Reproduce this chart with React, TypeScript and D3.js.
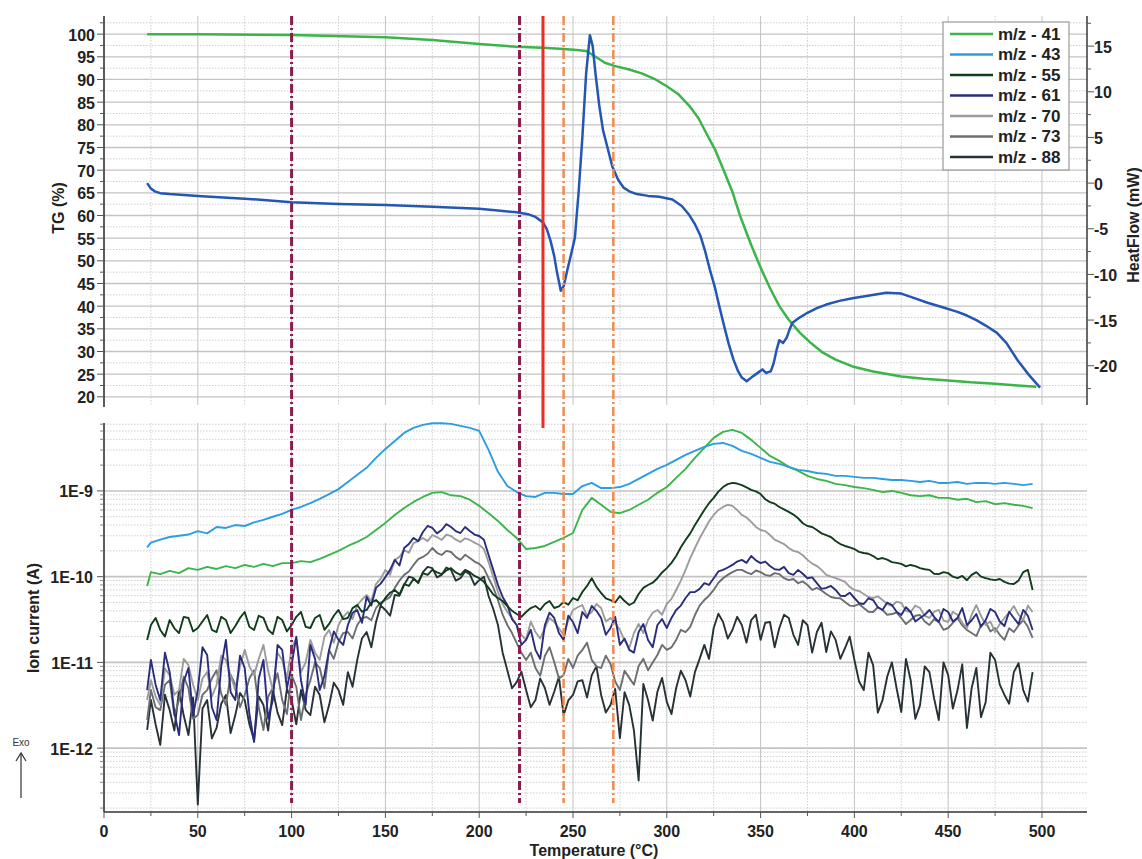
import React from 'react';
import * as d3 from 'd3';

const W = 1142;
const H = 859;
const FONT = '"Liberation Sans", Arial, sans-serif';

// ---------- Upper panel: TG (%) and HeatFlow (mW) ----------
const TG_TEMPS = [23, 50, 100, 150, 175, 200, 220, 234, 245, 252, 257, 262, 267, 272, 280, 287, 294, 300, 306, 312, 317, 321, 326, 330, 335, 339, 345, 350, 355, 360, 365, 371, 377, 383, 390, 399, 410, 425, 437, 450, 462, 475, 487, 497];
const TG_VALUES = [100, 100, 99.8, 99.3, 98.7, 97.8, 97.2, 97.0, 96.7, 96.5, 96.3, 95.0, 93.7, 93.0, 92.2, 91.3, 90.0, 88.5, 86.8, 84.2, 81.4, 78.2, 74.3, 70.3, 65.2, 60.0, 53.5, 48.5, 44.0, 40.0, 37.0, 34.1, 31.8, 29.8, 28.2, 26.7, 25.6, 24.5, 24.0, 23.6, 23.2, 22.9, 22.5, 22.2];

const HF_TEMPS = [23, 25, 27, 30, 35, 50, 75, 100, 125, 150, 175, 200, 210, 220, 226, 230, 234, 236, 238, 240, 241.5, 243.5, 245, 247, 249, 251, 253, 255, 257, 259, 260.5, 262, 264, 266, 268, 271, 274, 277, 280, 284, 290, 296, 303, 308, 312, 315, 318, 320.5, 323, 325.5, 328, 330.5, 333, 335.5, 338, 340, 342.6, 345, 347, 349, 351, 353, 354, 355.5, 357, 358.5, 360, 362, 364, 365.5, 367, 371, 375, 380, 385, 392, 399, 408, 417, 425, 432, 439, 447, 455, 460, 465, 470, 476, 481, 487, 493, 499];
const HF_VALUES = [0.0, -0.6, -0.9, -1.1, -1.2, -1.4, -1.7, -2.1, -2.3, -2.4, -2.6, -2.8, -3.0, -3.2, -3.4, -3.7, -4.3, -5.0, -6.3, -8.0, -9.8, -11.8, -11.3, -9.5, -7.8, -6.0, -1.0, 5.0, 12.0, 16.2, 15.0, 12.0, 8.5, 5.8, 4.2, 1.8, 0.4, -0.5, -0.9, -1.2, -1.4, -1.5, -1.8, -2.5, -3.5, -4.5, -5.8, -7.5, -9.5, -11.3, -13.5, -15.6, -17.6, -19.3, -20.6, -21.3, -21.7, -21.3, -21.0, -20.7, -20.4, -20.8, -20.7, -20.6, -19.7, -18.3, -17.2, -17.5, -16.9, -16.0, -15.3, -14.7, -14.2, -13.7, -13.3, -12.9, -12.6, -12.3, -12.0, -12.1, -12.6, -13.1, -13.6, -14.1, -14.5, -15.0, -15.6, -16.4, -17.5, -19.4, -21.0, -22.4];

// ---------- Lower panel: ion currents (A) ----------
const MS_TEMPS = [
  23, 25, 30, 35, 40, 45, 50, 55, 60, 65,
  70, 75, 80, 85, 90, 95, 100, 105, 110, 115,
  120, 125, 130, 135, 140, 145, 150, 155, 160, 165,
  170, 175, 180, 185, 190, 195, 200, 205, 210, 215,
  220, 225, 230, 235, 240, 245, 250, 255, 260, 265,
  270, 275, 280, 285, 290, 295, 300, 305, 310, 315,
  320, 325, 330, 335, 340, 345, 350, 355, 360, 365,
  370, 375, 380, 385, 390, 395, 400, 405, 410, 415,
  420, 425, 430, 435, 440, 445, 450, 455, 460, 465,
  470, 475, 480, 485, 490, 495,
];

const MZ41 = [
  7.8e-11, 1.13e-10, 1.07e-10, 1.17e-10, 1.10e-10, 1.26e-10, 1.20e-10, 1.30e-10, 1.23e-10, 1.33e-10,
  1.26e-10, 1.37e-10, 1.30e-10, 1.41e-10, 1.33e-10, 1.44e-10, 1.44e-10, 1.52e-10, 1.48e-10, 1.61e-10,
  1.79e-10, 2.00e-10, 2.28e-10, 2.54e-10, 2.90e-10, 3.50e-10, 4.24e-10, 5.25e-10, 6.33e-10, 7.44e-10,
  8.5e-10, 9.5e-10, 9.7e-10, 8.9e-10, 8.7e-10, 7.9e-10, 6.7e-10, 5.5e-10, 4.47e-10, 3.50e-10,
  2.83e-10, 2.10e-10, 2.16e-10, 2.28e-10, 2.54e-10, 2.83e-10, 3.23e-10, 6.0e-10, 8.3e-10, 6.9e-10,
  5.7e-10, 5.5e-10, 6.0e-10, 6.9e-10, 7.9e-10, 9.5e-10, 1.11e-9, 1.42e-9, 1.81e-9, 2.43e-9,
  3.18e-9, 4.16e-9, 4.88e-9, 5.15e-9, 4.75e-9, 3.94e-9, 3.18e-9, 2.56e-9, 2.24e-9, 1.91e-9,
  1.71e-9, 1.50e-9, 1.38e-9, 1.31e-9, 1.21e-9, 1.17e-9, 1.11e-9, 1.08e-9, 1.03e-9, 9.7e-10,
  1.0e-9, 9.5e-10, 8.9e-10, 8.7e-10, 8.9e-10, 8.3e-10, 8.3e-10, 7.9e-10, 8.1e-10, 7.4e-10,
  7.6e-10, 7.0e-10, 7.2e-10, 6.9e-10, 6.7e-10, 6.3e-10,
];

const MZ43 = [
  2.2e-10, 2.5e-10, 2.7e-10, 2.9e-10, 3.0e-10, 3.1e-10, 3.4e-10, 3.2e-10, 3.8e-10, 3.7e-10,
  4.0e-10, 3.9e-10, 4.3e-10, 4.6e-10, 5.0e-10, 5.4e-10, 6.0e-10, 6.5e-10, 7.2e-10, 8.1e-10,
  9.2e-10, 1.05e-9, 1.27e-9, 1.54e-9, 1.86e-9, 2.43e-9, 3.09e-9, 3.83e-9, 4.75e-9, 5.43e-9,
  5.89e-9, 6.15e-9, 6.15e-9, 6.05e-9, 5.73e-9, 5.43e-9, 5.01e-9, 3.01e-9, 1.67e-9, 1.14e-9,
  9.7e-10, 8.7e-10, 8.5e-10, 9.5e-10, 9.5e-10, 9.2e-10, 9.2e-10, 1.14e-9, 1.24e-9, 1.08e-9,
  1.08e-9, 1.11e-9, 1.21e-9, 1.38e-9, 1.58e-9, 1.81e-9, 2.01e-9, 2.30e-9, 2.63e-9, 2.93e-9,
  3.26e-9, 3.54e-9, 3.63e-9, 3.35e-9, 2.93e-9, 2.70e-9, 2.43e-9, 2.18e-9, 2.07e-9, 1.91e-9,
  1.76e-9, 1.71e-9, 1.62e-9, 1.58e-9, 1.50e-9, 1.50e-9, 1.46e-9, 1.42e-9, 1.42e-9, 1.38e-9,
  1.34e-9, 1.34e-9, 1.31e-9, 1.27e-9, 1.31e-9, 1.24e-9, 1.24e-9, 1.27e-9, 1.21e-9, 1.24e-9,
  1.24e-9, 1.21e-9, 1.24e-9, 1.21e-9, 1.17e-9, 1.21e-9,
];

const MZ55 = [
  1.83e-11, 2.73e-11, 2.39e-11, 3.12e-11, 2.20e-11, 3.30e-11, 2.52e-11, 3.57e-11, 2.26e-11, 3.12e-11,
  2.66e-11, 3.87e-11, 2.39e-11, 3.30e-11, 2.14e-11, 3.12e-11, 2.73e-11, 3.87e-11, 2.52e-11, 3.57e-11,
  2.81e-11, 4.09e-11, 3.30e-11, 4.67e-11, 4.09e-11, 5.34e-11, 5.64e-11, 7.0e-11, 8.2e-11, 9.4e-11,
  1.10e-10, 1.20e-10, 1.07e-10, 1.26e-10, 1.05e-10, 1.13e-10, 9.6e-11, 7.4e-11, 5.64e-11, 4.55e-11,
  3.67e-11, 3.87e-11, 4.55e-11, 4.80e-11, 4.31e-11, 5.07e-11, 5.64e-11, 6.63e-11, 9.6e-11, 6.45e-11,
  5.34e-11, 5.95e-11, 4.67e-11, 6.28e-11, 8.0e-11, 9.6e-11, 1.26e-10, 1.74e-10, 2.68e-10, 4.01e-10,
  6.0e-10, 8.3e-10, 1.11e-9, 1.24e-9, 1.17e-9, 1.03e-9, 9.2e-10, 7.4e-10, 6.5e-10, 5.7e-10,
  4.8e-10, 3.9e-10, 3.5e-10, 3.06e-10, 2.61e-10, 2.28e-10, 2.10e-10, 1.89e-10, 1.74e-10, 1.65e-10,
  1.48e-10, 1.41e-10, 1.37e-10, 1.26e-10, 1.20e-10, 1.07e-10, 1.10e-10, 9.6e-11, 9.1e-11, 1.13e-10,
  9.6e-11, 9.1e-11, 8.7e-11, 8.2e-11, 1.13e-10, 7.0e-11,
];
// readings half-way between the temperatures above (27.5, 32.5, ... 492.5 °C)
const MZ55_MID = [
  3.3e-11, 2.0e-11, 2.5e-11, 3.4e-11, 2.3e-11, 3.0e-11, 2.4e-11, 3.4e-11, 2.2e-11, 3.3e-11,
  2.6e-11, 3.5e-11, 2.4e-11, 3.4e-11, 2.3e-11, 3.4e-11, 2.6e-11, 3.3e-11, 2.4e-11, 3.5e-11,
  3.2e-11, 4.3e-11, 3.9e-11, 5.0e-11, 4.7e-11, 6.5e-11, 6.2e-11, 7.8e-11, 8.6e-11, 1.05e-10,
  1.12e-10, 1.18e-10, 1.12e-10, 1.2e-10, 1.02e-10, 8.7e-11, 6.2e-11, 5.2e-11, 4.0e-11, 3.4e-11,
  4.3e-11, 4.1e-11, 5.2e-11, 4.5e-11, 4.7e-11, 5.3e-11, 7.8e-11, 7.6e-11, 5.6e-11, 5.0e-11,
  5.2e-11, 5.0e-11, 7.4e-11, 8.5e-11, 1.12e-10, 1.45e-10, 2.2e-10, 3.2e-10, 4.9e-10, 7.2e-10,
  9.8e-10, 1.2e-9, 1.22e-9, 1.1e-9, 9.9e-10, 8.0e-10, 7.1e-10, 6.1e-10, 5.3e-10, 4.2e-10,
  3.8e-10, 3.2e-10, 2.9e-10, 2.4e-10, 2.2e-10, 1.95e-10, 1.85e-10, 1.6e-10, 1.58e-10, 1.45e-10,
  1.32e-10, 1.33e-10, 1.22e-10, 1.08e-10, 1.13e-10, 1.0e-10, 1.02e-10, 1.05e-10, 1.0e-10, 9.3e-11,
  9.4e-11, 8.3e-11, 9.0e-11, 1.2e-10,
];

const MZ61 = [
  4.76e-12, 1.07e-11, 3.64e-12, 7.7e-12, 1.42e-12, 8.6e-12, 4.76e-12, 1.22e-11, 2.13e-12, 1.83e-11,
  3.64e-12, 8.6e-12, 1.18e-12, 1.07e-11, 3.64e-12, 1.40e-11, 9.3e-12, 6.2e-12, 1.60e-11, 4.76e-12,
  1.40e-11, 1.83e-11, 2.73e-11, 4.09e-11, 5.80e-11, 7.4e-11, 9.9e-11, 1.57e-10, 2.16e-10, 2.83e-10,
  3.32e-10, 3.70e-10, 3.50e-10, 3.80e-10, 3.23e-10, 3.41e-10, 2.98e-10, 1.79e-10, 8.0e-11, 4.67e-11,
  2.73e-11, 1.83e-11, 1.40e-11, 2.73e-11, 3.30e-11, 1.83e-11, 2.96e-11, 3.87e-11, 4.55e-11, 3.30e-11,
  2.52e-11, 1.60e-11, 1.40e-11, 2.26e-11, 1.83e-11, 2.73e-11, 2.52e-11, 4.09e-11, 5.64e-11, 6.63e-11,
  8.4e-11, 9.6e-11, 1.20e-10, 1.37e-10, 1.57e-10, 1.74e-10, 1.44e-10, 1.33e-10, 1.20e-10, 1.10e-10,
  1.20e-10, 9.6e-11, 8.4e-11, 7.4e-11, 7.0e-11, 5.95e-11, 5.64e-11, 4.80e-11, 5.34e-11, 4.09e-11,
  4.67e-11, 3.57e-11, 3.87e-11, 3.30e-11, 4.09e-11, 2.96e-11, 3.87e-11, 3.30e-11, 2.73e-11, 3.67e-11,
  3.12e-11, 3.87e-11, 2.66e-11, 3.30e-11, 4.09e-11, 2.39e-11,
];
const MZ61_MID = [
  5.5e-12, 1.3e-11, 2.6e-12, 6.0e-12, 2.4e-12, 1.5e-11, 3.0e-12, 9.0e-12, 4.5e-12, 1.2e-11,
  2.5e-12, 6.5e-12, 2.2e-12, 1.6e-11, 5.0e-12, 2.0e-11, 3.2e-12, 1.1e-11, 7.0e-12, 2.3e-11,
  1.6e-11, 3.8e-11, 2.9e-11, 4.6e-11, 8.3e-11, 1.2e-10, 1.35e-10, 2.4e-10, 2.6e-10, 3.9e-10,
  3.2e-10, 4.1e-10, 3.4e-10, 3.8e-10, 3.1e-10, 2.7e-10, 1.2e-10, 5.8e-11, 3.2e-11, 1.6e-11,
  2.4e-11, 1.1e-11, 3.8e-11, 2.2e-11, 3.5e-11, 2.2e-11, 3.3e-11, 4.0e-11, 2.1e-11, 3.4e-11,
  1.9e-11, 1.3e-11, 2.8e-11, 1.5e-11, 3.2e-11, 3.3e-11, 4.6e-11, 6.6e-11, 7.2e-11, 8.0e-11,
  1.15e-10, 1.28e-10, 1.5e-10, 1.45e-10, 1.55e-10, 1.5e-10, 1.22e-10, 1.3e-10, 1.05e-10, 1.08e-10,
  9.8e-11, 7.2e-11, 7.8e-11, 6.0e-11, 6.5e-11, 4.9e-11, 5.6e-11, 4.4e-11, 5.0e-11, 3.9e-11,
  4.4e-11, 3.0e-11, 3.6e-11, 3.4e-11, 4.2e-11, 3.0e-11, 4.3e-11, 3.1e-11, 2.6e-11, 4.2e-11,
  3.0e-11, 3.9e-11, 2.8e-11, 3.5e-11,
];

const MZ70 = [
  3.64e-12, 6.2e-12, 3.18e-12, 7.1e-12, 4.76e-12, 9.3e-12, 3.64e-12, 7.7e-12, 5.45e-12, 1.07e-11,
  4.76e-12, 1.40e-11, 7.1e-12, 1.60e-11, 4.76e-12, 1.07e-11, 1.47e-11, 7.7e-12, 1.83e-11, 1.07e-11,
  2.39e-11, 2.73e-11, 3.87e-11, 4.67e-11, 6.12e-11, 8.2e-11, 1.20e-10, 1.57e-10, 2.05e-10, 2.47e-10,
  2.83e-10, 3.06e-10, 2.68e-10, 2.98e-10, 2.54e-10, 2.68e-10, 2.34e-10, 1.48e-10, 6.63e-11, 3.87e-11,
  2.73e-11, 1.83e-11, 2.26e-11, 2.52e-11, 2.96e-11, 2.09e-11, 4.09e-11, 4.67e-11, 3.87e-11, 4.31e-11,
  3.30e-11, 2.39e-11, 1.47e-11, 2.81e-11, 3.12e-11, 4.09e-11, 4.80e-11, 7.0e-11, 1.20e-10, 2.16e-10,
  3.50e-10, 5.25e-10, 6.5e-10, 6.7e-10, 5.25e-10, 4.35e-10, 3.50e-10, 3.06e-10, 2.54e-10, 2.16e-10,
  1.94e-10, 1.57e-10, 1.33e-10, 1.05e-10, 9.6e-11, 8.7e-11, 7.0e-11, 6.28e-11, 5.64e-11, 5.34e-11,
  4.55e-11, 4.94e-11, 3.87e-11, 4.31e-11, 3.30e-11, 4.09e-11, 2.96e-11, 3.57e-11, 2.52e-11, 4.67e-11,
  2.73e-11, 2.26e-11, 3.30e-11, 4.55e-11, 3.12e-11, 3.87e-11,
];
const MZ70_MID = [
  4.0e-12, 8.5e-12, 4.2e-12, 1.1e-11, 5.5e-12, 6.5e-12, 4.0e-12, 1.2e-11, 7.0e-12, 9.0e-12,
  9.0e-12, 1.1e-11, 8.0e-12, 1.3e-11, 6.5e-12, 1.9e-11, 1.0e-11, 1.3e-11, 2.0e-11, 1.7e-11,
  3.4e-11, 3.2e-11, 5.4e-11, 5.2e-11, 9.5e-11, 1.05e-10, 1.7e-10, 1.9e-10, 2.6e-10, 2.6e-10,
  2.9e-10, 3.1e-10, 2.7e-10, 2.8e-10, 2.5e-10, 2.1e-10, 1.0e-10, 4.8e-11, 3.3e-11, 2.1e-11,
  3.0e-11, 1.9e-11, 3.3e-11, 2.5e-11, 3.1e-11, 4.4e-11, 3.5e-11, 4.8e-11, 3.0e-11, 2.9e-11,
  1.8e-11, 2.2e-11, 2.2e-11, 3.8e-11, 3.6e-11, 5.5e-11, 9.0e-11, 1.65e-10, 2.8e-10, 4.4e-10,
  6.0e-10, 6.9e-10, 6.0e-10, 4.9e-10, 3.8e-10, 3.4e-10, 2.7e-10, 2.4e-10, 2.0e-10, 1.78e-10,
  1.42e-10, 1.2e-10, 1.0e-10, 9.2e-11, 7.6e-11, 6.8e-11, 5.8e-11, 5.9e-11, 4.8e-11, 5.1e-11,
  4.0e-11, 4.6e-11, 3.5e-11, 3.9e-11, 3.1e-11, 3.9e-11, 2.9e-11, 3.6e-11, 3.5e-11, 3.0e-11,
  2.8e-11, 3.8e-11, 3.6e-11, 4.6e-11,
];

const MZ73 = [
  2.13e-12, 4.76e-12, 2.78e-12, 6.2e-12, 3.64e-12, 5.03e-12, 2.43e-12, 4.76e-12, 8.1e-12, 3.18e-12,
  5.45e-12, 4.17e-12, 8.1e-12, 1.63e-12, 5.03e-12, 3.64e-12, 7.1e-12, 2.13e-12, 6.2e-12, 8.6e-12,
  1.40e-11, 1.73e-11, 2.26e-11, 2.73e-11, 3.39e-11, 4.31e-11, 5.34e-11, 7.4e-11, 1.05e-10, 1.37e-10,
  1.70e-10, 2.16e-10, 1.79e-10, 1.94e-10, 1.57e-10, 1.65e-10, 1.41e-10, 9.6e-11, 5.34e-11, 2.73e-11,
  1.68e-11, 1.07e-11, 8.6e-12, 1.19e-11, 1.01e-11, 7.1e-12, 8.6e-12, 1.40e-11, 1.07e-11, 8.6e-12,
  9.6e-12, 4.76e-12, 6.6e-12, 9.1e-12, 8.1e-12, 1.22e-11, 1.40e-11, 1.83e-11, 2.26e-11, 3.57e-11,
  5.34e-11, 7.0e-11, 9.6e-11, 1.13e-10, 1.20e-10, 1.07e-10, 1.13e-10, 1.02e-10, 1.07e-10, 9.1e-11,
  8.4e-11, 8.0e-11, 7.4e-11, 6.28e-11, 5.64e-11, 5.07e-11, 4.55e-11, 4.31e-11, 3.87e-11, 4.09e-11,
  3.67e-11, 3.30e-11, 3.12e-11, 3.57e-11, 2.73e-11, 2.96e-11, 2.52e-11, 3.30e-11, 2.39e-11, 2.03e-11,
  2.96e-11, 2.52e-11, 1.83e-11, 2.26e-11, 3.12e-11, 1.93e-11,
];
const MZ73_MID = [
  3.0e-12, 5.5e-12, 2.4e-12, 6.8e-12, 2.2e-12, 4.2e-12, 6.5e-12, 4.3e-12, 7.2e-12, 3.0e-12,
  6.5e-12, 3.0e-12, 4.0e-12, 7.5e-12, 2.5e-12, 5.2e-12, 4.2e-12, 1.0e-11, 5.0e-12, 1.1e-11,
  2.2e-11, 1.9e-11, 3.3e-11, 3.1e-11, 5.0e-11, 5.8e-11, 9.0e-11, 1.15e-10, 1.6e-10, 1.85e-10,
  1.9e-10, 2.0e-10, 1.7e-10, 1.8e-10, 1.5e-10, 1.25e-10, 7.5e-11, 3.6e-11, 2.2e-11, 1.3e-11,
  1.3e-11, 7.0e-12, 1.5e-11, 6.5e-12, 1.1e-11, 1.2e-11, 1.7e-11, 9.0e-12, 1.2e-11, 6.0e-12,
  8.0e-12, 5.5e-12, 1.1e-11, 1.0e-11, 1.6e-11, 1.5e-11, 2.4e-11, 2.6e-11, 4.6e-11, 6.0e-11,
  8.5e-11, 1.05e-10, 1.2e-10, 1.12e-10, 1.18e-10, 1.05e-10, 1.1e-10, 9.6e-11, 9.4e-11, 8.8e-11,
  7.0e-11, 6.9e-11, 5.8e-11, 5.6e-11, 4.6e-11, 4.8e-11, 3.9e-11, 4.4e-11, 3.6e-11, 3.8e-11,
  2.8e-11, 3.5e-11, 3.0e-11, 3.2e-11, 2.4e-11, 2.9e-11, 2.7e-11, 2.2e-11, 2.7e-11, 2.3e-11,
  2.1e-11, 2.5e-11, 2.7e-11, 2.6e-11,
];

const MZ88 = [
  1.63e-12, 3.64e-12, 1.09e-12, 2.78e-12, 4.76e-12, 1.42e-12, 2.2e-13, 3.64e-12, 1.72e-12, 4.17e-12,
  2.43e-12, 3.64e-12, 1.24e-12, 3.18e-12, 4.76e-12, 1.86e-12, 3.64e-12, 4.76e-12, 2.43e-12, 4.17e-12,
  3.18e-12, 4.76e-12, 7.7e-12, 1.07e-11, 2.26e-11, 2.96e-11, 4.09e-11, 6.12e-11, 8.0e-11, 9.6e-11,
  1.13e-10, 1.26e-10, 1.05e-10, 1.20e-10, 9.6e-11, 1.07e-10, 9.1e-11, 5.95e-11, 2.73e-11, 8.1e-12,
  5.9e-12, 4.76e-12, 3.64e-12, 5.03e-12, 4.55e-12, 2.43e-12, 4.17e-12, 6.2e-12, 7.1e-12, 4.17e-12,
  3.18e-12, 1.31e-12, 3.18e-12, 4.2e-13, 3.64e-12, 4.55e-12, 3.46e-12, 5.03e-12, 6.2e-12, 7.7e-12,
  1.60e-11, 2.52e-11, 2.96e-11, 2.39e-11, 2.73e-11, 3.12e-11, 1.83e-11, 2.96e-11, 2.52e-11, 3.30e-11,
  1.60e-11, 2.73e-11, 2.26e-11, 1.32e-11, 1.83e-11, 1.47e-11, 1.07e-11, 4.76e-12, 9.3e-12, 3.64e-12,
  1.0e-11, 2.64e-12, 6.2e-12, 3.18e-12, 7.7e-12, 2.13e-12, 7.1e-12, 4.76e-12, 1.72e-12, 8.6e-12,
  3.46e-12, 1.07e-11, 4.17e-12, 7.7e-12, 4.76e-12, 7.7e-12,
];
const MZ88_MID = [
  1.9e-12, 4.2e-12, 1.6e-12, 2.4e-12, 3.9e-12, 2.9e-12, 1.3e-12, 3.3e-12, 1.5e-12, 4.4e-12,
  1.9e-12, 4.0e-12, 1.6e-12, 2.6e-12, 4.9e-12, 1.9e-12, 2.8e-12, 5.2e-12, 2.0e-12, 5.8e-12,
  3.2e-12, 5.2e-12, 1.9e-11, 1.5e-11, 4.6e-11, 3.5e-11, 6.0e-11, 1.0e-10, 8.4e-11, 1.3e-10,
  9.8e-11, 1.28e-10, 9.0e-11, 1.15e-10, 8.0e-11, 1.0e-10, 4.2e-11, 1.3e-11, 5.0e-12, 7.8e-12,
  3.0e-12, 6.5e-12, 3.2e-12, 6.8e-12, 3.6e-12, 6.0e-12, 3.9e-12, 9.0e-12, 2.6e-12, 4.9e-12,
  4.5e-12, 1.6e-12, 5.6e-12, 2.1e-12, 6.6e-12, 2.5e-12, 8.0e-12, 4.0e-12, 1.1e-11, 1.1e-11,
  3.7e-11, 1.9e-11, 3.4e-11, 1.7e-11, 3.6e-11, 2.9e-11, 1.5e-11, 3.6e-11, 2.1e-11, 3.1e-11,
  1.3e-11, 2.9e-11, 2.3e-11, 1.1e-11, 2.0e-11, 6.0e-12, 1.3e-11, 2.6e-12, 6.8e-12, 5.0e-12,
  1.1e-11, 2.2e-12, 9.0e-12, 3.8e-12, 1.0e-11, 2.9e-12, 9.5e-12, 5.0e-12, 2.3e-12, 1.3e-11,
  5.5e-12, 3.3e-12, 9.8e-12, 3.5e-12,
];

const LEGEND_LABELS = ['m/z - 41', 'm/z - 43', 'm/z - 55', 'm/z - 61', 'm/z - 70', 'm/z - 73', 'm/z - 88'];
const LEGEND_COLORS = ['#3bb54a', '#2b9de0', '#0f3d1c', '#2a2d7c', '#9c9c9c', '#6b6f72', '#263236'];
const MS_SERIES = [MZ41, MZ43, MZ55, MZ61, MZ70, MZ73, MZ88];
const MS_MIDS: (number[] | null)[] = [null, null, MZ55_MID, MZ61_MID, MZ70_MID, MZ73_MID, MZ88_MID];
const DRAW_ORDER = [6, 5, 4, 3, 2, 0, 1];

// ---------- Axes ----------
const X_TICKS = [0, 50, 100, 150, 200, 250, 300, 350, 400, 450, 500];
const X_MINOR = [25, 75, 125, 175, 225, 275, 325, 375, 425, 475];
const TG_TICKS = [20, 25, 30, 35, 40, 45, 50, 55, 60, 65, 70, 75, 80, 85, 90, 95, 100];
const TG_MINOR = [22.5, 27.5, 32.5, 37.5, 42.5, 47.5, 52.5, 57.5, 62.5, 67.5, 72.5, 77.5, 82.5, 87.5, 92.5, 97.5, 102.5];
const HF_TICKS = [-20, -15, -10, -5, 0, 5, 10, 15];
const HF_MINOR = [-22.5, -17.5, -12.5, -7.5, -2.5, 2.5, 7.5, 12.5, 17.5];
const ION_TICKS = [1e-12, 1e-11, 1e-10, 1e-9];
const ION_TICK_LABELS = ['1E-12', '1E-11', '1E-10', '1E-9'];

// event markers (°C)
const PURPLE_MARKS = [100, 221.5];
const ORANGE_MARKS = [245, 271.5];
const RED_MARK = 234;

// merge main readings with the half-way readings into [T, value] pairs
function mergeReadings(main: number[], mid: number[] | null): [number, number][] {
  const out: [number, number][] = [];
  for (let i = 0; i < MS_TEMPS.length; i++) {
    out.push([MS_TEMPS[i], main[i]]);
    if (mid && i >= 1 && i < MS_TEMPS.length - 1 && mid[i - 1] !== undefined) {
      out.push([(MS_TEMPS[i] + MS_TEMPS[i + 1]) / 2, mid[i - 1]]);
    }
  }
  return out;
}

export default function App() {
  const x = d3.scaleLinear().domain([0, 524]).range([104, 1087]);
  const yTG = d3.scaleLinear().domain([18.2, 104]).range([405, 16]);
  const yHF = d3.scaleLinear().domain([-24.3, 18.3]).range([405, 16]);
  const yIon = d3.scaleLog().domain([1.8e-13, 6.2e-9]).range([812, 423]);

  const tgPath = d3.line<number>().x((_, i) => x(TG_TEMPS[i])).y((d) => yTG(d))(TG_VALUES) || '';
  const hfPath = d3.line<number>().x((_, i) => x(HF_TEMPS[i])).y((d) => yHF(d))(HF_VALUES) || '';
  const msLine = d3.line<[number, number]>().x((d) => x(d[0])).y((d) => yIon(d[1]));

  const ionGrid = yIon.ticks();
  const isDecade = (v: number) => Math.abs(Math.log10(v) - Math.round(Math.log10(v))) < 1e-6;

  const gridSolid = '#c3c3c3';
  const gridDot = '#cfcfcf';
  const vertGrid = [...X_MINOR, ...X_TICKS.filter((t) => t > 0)];

  return (
    <svg
      width={W}
      height={H}
      viewBox={`0 0 ${W} ${H}`}
      style={{ position: 'absolute', left: 0, top: 0, background: '#ffffff', fontFamily: FONT }}
    >
      <rect x={0} y={0} width={W} height={H} fill="#ffffff" />

      {/* upper panel horizontal grid */}
      {TG_MINOR.filter((v) => v <= 103).map((v) => (
        <line key={`tgm${v}`} x1={104} x2={1087} y1={yTG(v)} y2={yTG(v)} stroke={gridDot} strokeWidth={1} strokeDasharray="1.5,1.5" />
      ))}
      {TG_TICKS.map((v) => (
        <line key={`tgg${v}`} x1={104} x2={1087} y1={yTG(v)} y2={yTG(v)} stroke={gridSolid} strokeWidth={1.3} />
      ))}
      {vertGrid.map((t) => (
        <line key={`uv${t}`} x1={x(t)} x2={x(t)} y1={16} y2={405} stroke={t % 50 === 0 ? gridSolid : gridDot} strokeWidth={1} strokeDasharray={t % 50 === 0 ? undefined : '1.5,1.5'} />
      ))}

      {/* lower panel grid */}
      {ionGrid.map((v, i) => (
        <line key={`ig${i}`} x1={104} x2={1087} y1={yIon(v)} y2={yIon(v)} stroke={isDecade(v) ? gridSolid : gridDot} strokeWidth={isDecade(v) ? 1.6 : 1} strokeDasharray={isDecade(v) ? undefined : '1.5,1.5'} />
      ))}
      {vertGrid.map((t) => (
        <line key={`lv${t}`} x1={x(t)} x2={x(t)} y1={423} y2={812} stroke={t % 50 === 0 ? gridSolid : gridDot} strokeWidth={1} strokeDasharray={t % 50 === 0 ? undefined : '1.5,1.5'} />
      ))}

      {/* ion current curves */}
      {DRAW_ORDER.map((k) => (
        <path key={`ms${k}`} d={msLine(mergeReadings(MS_SERIES[k], MS_MIDS[k])) || ''} fill="none" stroke={LEGEND_COLORS[k]} strokeWidth={1.9} strokeLinejoin="round" />
      ))}

      {/* TG and heat flow */}
      <path d={tgPath} fill="none" stroke="#3bb54a" strokeWidth={2.5} strokeLinejoin="round" />
      <path d={hfPath} fill="none" stroke="#2456b3" strokeWidth={2.5} strokeLinejoin="round" />

      {/* event markers */}
      {PURPLE_MARKS.map((t) => (
        <line key={`pm${t}`} x1={x(t)} x2={x(t)} y1={16} y2={803} stroke="#8a1c50" strokeWidth={3} strokeDasharray="9,3,2,3" />
      ))}
      {ORANGE_MARKS.map((t) => (
        <line key={`om${t}`} x1={x(t)} x2={x(t)} y1={16} y2={803} stroke="#f58a4c" strokeWidth={2.5} strokeDasharray="9,3,2,3" />
      ))}
      <line x1={x(RED_MARK)} x2={x(RED_MARK)} y1={16} y2={428} stroke="#ec2c25" strokeWidth={3} />

      {/* legend */}
      <rect x={943} y={22} width={126} height={148} fill="#ffffff" stroke="#9a9a9a" strokeWidth={1.2} />
      {LEGEND_LABELS.map((lab, i) => {
        const cy = 34 + i * 20.5;
        return (
          <g key={lab}>
            <line x1={950} x2={993} y1={cy} y2={cy} stroke={LEGEND_COLORS[i]} strokeWidth={2.5} />
            <text x={998} y={cy} dominantBaseline="central" fontSize={17} fontWeight="bold" fill="#222">{lab}</text>
          </g>
        );
      })}

      {/* upper left axis (TG) */}
      <line x1={104} x2={104} y1={16} y2={407} stroke="#333" strokeWidth={1.6} />
      {TG_MINOR.map((v) => (
        <line key={`tgmt${v}`} x1={100} x2={104} y1={yTG(v)} y2={yTG(v)} stroke="#555" strokeWidth={1} />
      ))}
      {TG_TICKS.map((v) => (
        <g key={`tgt${v}`}>
          <line x1={97} x2={104} y1={yTG(v)} y2={yTG(v)} stroke="#555" strokeWidth={1} />
          <text x={95} y={yTG(v) + 1} textAnchor="end" dominantBaseline="central" fontSize={16} fontWeight="bold" fill="#222">{v}</text>
        </g>
      ))}
      <text transform={`translate(58,208) rotate(-90)`} textAnchor="middle" dominantBaseline="central" fontSize={16} fontWeight="bold" fill="#222">TG (%)</text>

      {/* upper right axis (HeatFlow) */}
      <line x1={1087} x2={1087} y1={16} y2={405} stroke="#444" strokeWidth={1.6} />
      {HF_MINOR.map((v) => (
        <line key={`hfm${v}`} x1={1087} x2={1091} y1={yHF(v)} y2={yHF(v)} stroke="#555" strokeWidth={1} />
      ))}
      {HF_TICKS.map((v) => (
        <g key={`hft${v}`}>
          <line x1={1087} x2={1094} y1={yHF(v)} y2={yHF(v)} stroke="#555" strokeWidth={1} />
          <text x={1094} y={yHF(v) + 1} textAnchor="start" dominantBaseline="central" fontSize={16} fontWeight="bold" fill="#222">{v}</text>
        </g>
      ))}
      <text transform={`translate(1133,225) rotate(-90)`} textAnchor="middle" dominantBaseline="central" fontSize={16} fontWeight="bold" fill="#222">HeatFlow (mW)</text>

      {/* lower left axis (ion current) */}
      <line x1={104} x2={104} y1={423} y2={812} stroke="#333" strokeWidth={1.6} />
      {ionGrid.filter((v) => !isDecade(v)).map((v, i) => (
        <line key={`im${i}`} x1={100} x2={104} y1={yIon(v)} y2={yIon(v)} stroke="#666" strokeWidth={0.8} />
      ))}
      {ION_TICKS.map((v, i) => (
        <g key={`it${i}`}>
          <line x1={97} x2={104} y1={yIon(v)} y2={yIon(v)} stroke="#555" strokeWidth={1} />
          <text x={93} y={yIon(v) + 1} textAnchor="end" dominantBaseline="central" fontSize={16} fontWeight="bold" fill="#222">{ION_TICK_LABELS[i]}</text>
        </g>
      ))}
      <text transform={`translate(33,618) rotate(-90)`} textAnchor="middle" dominantBaseline="central" fontSize={16} fontWeight="bold" fill="#222">Ion current (A)</text>

      {/* bottom axis */}
      <line x1={104} x2={1087} y1={812} y2={812} stroke="#333" strokeWidth={1.6} />
      {X_MINOR.map((t) => (
        <line key={`xm${t}`} x1={x(t)} x2={x(t)} y1={812} y2={816} stroke="#555" strokeWidth={1} />
      ))}
      {X_TICKS.map((t) => (
        <g key={`xt${t}`}>
          <line x1={x(t)} x2={x(t)} y1={812} y2={818} stroke="#555" strokeWidth={1} />
          <text x={x(t)} y={837} textAnchor="middle" fontSize={16} fontWeight="bold" fill="#222">{t}</text>
        </g>
      ))}
      <text x={594} y={856} textAnchor="middle" fontSize={16} fontWeight="bold" fill="#222">Temperature (°C)</text>

      {/* Exo arrow */}
      <text x={21} y={746} textAnchor="middle" fontSize={10} fill="#333">Exo</text>
      <line x1={21} x2={21} y1={798} y2={753} stroke="#333" strokeWidth={1.2} />
      <polyline points="16,761 21,753 26,761" fill="none" stroke="#333" strokeWidth={1.2} />
    </svg>
  );
}
